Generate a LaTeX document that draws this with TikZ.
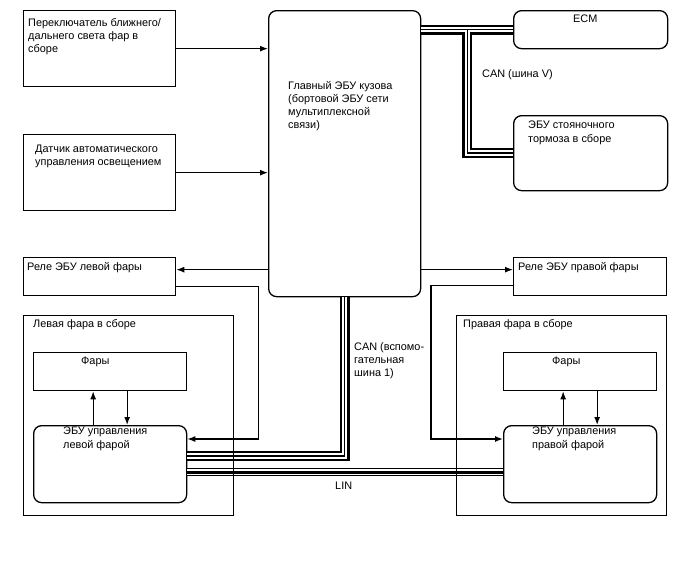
\documentclass[tikz,border=0pt]{standalone}
\usepackage{fontspec}
\setmainfont{Liberation Sans}
\usetikzlibrary{arrows.meta,positioning}
\tikzset{
  box/.style={draw, line width=1.3pt, anchor=north west, inner sep=0pt},
  rbox/.style={box, rounded corners=8pt},
  txt/.style={anchor=north west, inner sep=0pt, align=left,
    font=\fontsize{10.9}{13.2}\selectfont, execute at begin node=\strut},
  arr/.style={-{Latex[length=8pt,width=6pt]}, line width=1.3pt},
  canbus/.style={draw=white, line width=5.5pt,
    preaction={draw=black, line width=10pt},
    postaction={draw=black, line width=1.4pt}},
  linbus/.style={draw=white, line width=6pt,
    preaction={draw=black, line width=8.5pt},
    postaction={draw=black, line width=3pt}},
}
\begin{document}
\begin{tikzpicture}[x=1pt, y=-1pt]
  \useasboundingbox (0,0) rectangle (688,560);

  % Inputs
  \node[box, minimum width=152pt, minimum height=76pt] (sw) at (23,10) {};
  \node[txt] (swtxt) at (28,18) {Переключатель ближнего/\\дальнего света фар в\\сборе};
  \node[box, minimum width=152pt, minimum height=76pt] (sensor) at (23,134) {};
  \node[txt] (sensortxt) at (35,145) {Датчик автоматического\\управления освещением};

  % Main body ECU
  \node[rbox, minimum width=152pt, minimum height=286pt] (main) at (268,10) {};
  \node[txt] (maintxt) at (288,81) {Главный ЭБУ кузова\\(бортовой ЭБУ сети\\мультиплексной\\связи)};

  % ECM and parking brake
  \node[rbox, minimum width=154pt, minimum height=38pt] (ecm) at (513,10) {};
  \node[txt] (ecmtxt) at (573,13) {ECM};
  \node[rbox, minimum width=154pt, minimum height=75pt] (epb) at (513,115) {};
  \node[txt] (epbtxt) at (528,121) {ЭБУ стояночного\\тормоза в сборе};

  % Relays
  \node[box, minimum width=152pt, minimum height=38pt] (relayL) at (23,257) {};
  \node[txt] (relayLtxt) at (27,261) {Реле ЭБУ левой фары};
  \node[box, minimum width=153pt, minimum height=38pt] (relayR) at (513,257) {};
  \node[txt] (relayRtxt) at (518,261) {Реле ЭБУ правой фары};

  % Headlamps and their ECUs
  \node[box, minimum width=153pt, minimum height=38pt] (lampL) at (33,352) {};
  \node[txt] (lampLtxt) at (81,355) {Фары};
  \node[rbox, minimum width=153pt, minimum height=77pt] (ecuL) at (33,425) {};
  \node[txt] (ecuLtxt) at (63,427) {ЭБУ управления\\левой фарой};
  \node[box, minimum width=153pt, minimum height=38pt] (lampR) at (503,352) {};
  \node[txt] (lampRtxt) at (552,355) {Фары};
  \node[rbox, minimum width=153pt, minimum height=77pt] (ecuR) at (503,425) {};
  \node[txt] (ecuRtxt) at (532,427) {ЭБУ управления\\правой фарой};

  % Buses
  \draw[canbus] (main.east |- ecm.west) -- (ecm.west)
    ([xshift=46pt]main.east |- ecm.west) |- (epb.west);
  \draw[canbus] (main.south) |- ([yshift=8pt]ecuL.east);
  \draw[linbus] ([yshift=-8pt]ecuL.east) -- ([yshift=-8pt]ecuR.west);
  \node[txt] (canV) at (482,68) {CAN (шина V)};
  \node[txt] (canSub) at (354,342) {CAN (вспомо-\\гательная\\шина 1)};
  \node[txt] (lin) at (335,480) {LIN};

  % Headlamp assemblies
  \node[box, minimum width=210pt, minimum height=200pt] (asmL) at (23,315) {};
  \node[txt] (asmLtxt) at (33,318) {Левая фара в сборе};
  \node[box, minimum width=210pt, minimum height=200pt] (asmR) at (456,315) {};
  \node[txt] (asmRtxt) at (463,318) {Правая фара в сборе};

  % Signals
  \draw[arr] (sw.east) -- (sw.east -| main.west);
  \draw[arr] (sensor.east) -- (sensor.east -| main.west);
  \draw[arr] ([yshift=7pt]relayL.east -| main.west) -- ([yshift=7pt]relayL.east);
  \draw[arr] ([yshift=7pt]relayR.west -| main.east) -- ([yshift=7pt]relayR.west);
  \draw[arr] ([yshift=-10pt]relayL.east) -- ++(82,0) |- ([yshift=-14pt]ecuL.north east);
  \draw[arr] ([yshift=-9pt]relayR.west) -- ++(-82,0) |- ([yshift=-14pt]ecuR.north west);
  \draw[arr] ([xshift=-17pt]ecuL.north) -- ([xshift=-17pt]lampL.south);
  \draw[arr] ([xshift=17pt]lampL.south) -- ([xshift=17pt]ecuL.north);
  \draw[arr] ([xshift=-17pt]ecuR.north) -- ([xshift=-17pt]lampR.south);
  \draw[arr] ([xshift=17pt]lampR.south) -- ([xshift=17pt]ecuR.north);

\end{tikzpicture}
\end{document}
